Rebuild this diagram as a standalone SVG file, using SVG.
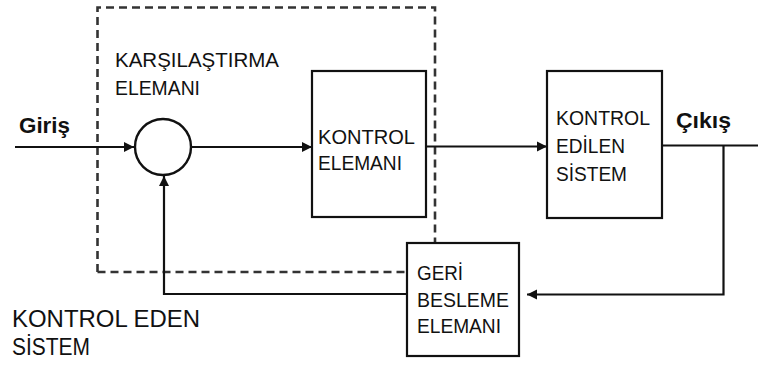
<svg xmlns="http://www.w3.org/2000/svg" width="758" height="367" viewBox="0 0 758 367">
<defs>
<style>
.box{fill:#fff;stroke:#111;stroke-width:2.2}
.ln{fill:none;stroke:#111;stroke-width:2.2}
.dash{fill:none;stroke:#333;stroke-width:2.6;stroke-dasharray:8 5}
.t{font-family:"Liberation Sans",Arial,sans-serif;font-size:21px;fill:#111}
.tb{font-family:"Liberation Sans",Arial,sans-serif;font-size:22px;font-weight:bold;fill:#111}
.tl{font-family:"Liberation Sans",Arial,sans-serif;font-size:23px;fill:#111}
</style>
<marker id="ah" viewBox="0 0 10 10" refX="10" refY="5" markerWidth="10" markerHeight="12" markerUnits="userSpaceOnUse" orient="auto">
<path d="M0,0 L10,5 L0,10 Z" fill="#111"/>
</marker>
</defs>
<rect width="758" height="367" fill="#fff"/>
<g id="boundary">
<path class="dash" d="M97.5,272 V7.5 H435 V243"/>
<path class="dash" d="M97.5,272 H407"/>
</g>
<g id="connectors">
<line class="ln" x1="15" y1="147" x2="134" y2="147" marker-end="url(#ah)"/>
<line class="ln" x1="191" y1="147" x2="312" y2="147" marker-end="url(#ah)"/>
<line class="ln" x1="426" y1="146.5" x2="547" y2="146.5" marker-end="url(#ah)"/>
<line class="ln" x1="662" y1="145.5" x2="758" y2="145.5"/>
<path class="ln" d="M723.5,145.5 V294.5 H527" marker-end="url(#ah)"/>
<path class="ln" d="M407,294 H164 V176" marker-end="url(#ah)"/>
</g>
<g id="comparator">
<circle cx="163" cy="147" r="28" fill="#fff" stroke="#111" stroke-width="2.4"/>
</g>
<g id="label-comparator">
<text class="t" x="115" y="67" textLength="164" lengthAdjust="spacingAndGlyphs">KARŞILAŞTIRMA</text>
<text class="t" x="115" y="95" textLength="85" lengthAdjust="spacingAndGlyphs">ELEMANI</text>
</g>
<g id="input-label"><text class="tb" x="19" y="133" textLength="51" lengthAdjust="spacingAndGlyphs">Giriş</text></g>
<g id="output-label"><text class="tb" x="676" y="128" textLength="55" lengthAdjust="spacingAndGlyphs">Çıkış</text></g>
<g id="kontrol-elemani">
<rect class="box" x="312" y="71" width="114" height="146"/>
<text class="t" x="318" y="144" textLength="97" lengthAdjust="spacingAndGlyphs">KONTROL</text>
<text class="t" x="318" y="170" textLength="84" lengthAdjust="spacingAndGlyphs">ELEMANI</text>
</g>
<g id="kontrol-edilen-sistem">
<rect class="box" x="547" y="71" width="115" height="147"/>
<text class="t" x="556" y="125" textLength="94" lengthAdjust="spacingAndGlyphs">KONTROL</text>
<text class="t" x="556" y="153" textLength="69" lengthAdjust="spacingAndGlyphs">EDİLEN</text>
<text class="t" x="556" y="181" textLength="71" lengthAdjust="spacingAndGlyphs">SİSTEM</text>
</g>
<g id="geri-besleme-elemani">
<rect class="box" x="407" y="243" width="112" height="113"/>
<text class="t" x="417" y="280" textLength="46" lengthAdjust="spacingAndGlyphs">GERİ</text>
<text class="t" x="417" y="307" textLength="92" lengthAdjust="spacingAndGlyphs">BESLEME</text>
<text class="t" x="417" y="333" textLength="84" lengthAdjust="spacingAndGlyphs">ELEMANI</text>
</g>
<g id="label-kontrol-eden">
<text class="tl" x="12" y="327" textLength="188" lengthAdjust="spacingAndGlyphs">KONTROL EDEN</text>
<text class="tl" x="12" y="355" textLength="78" lengthAdjust="spacingAndGlyphs">SİSTEM</text>
</g>
</svg>
